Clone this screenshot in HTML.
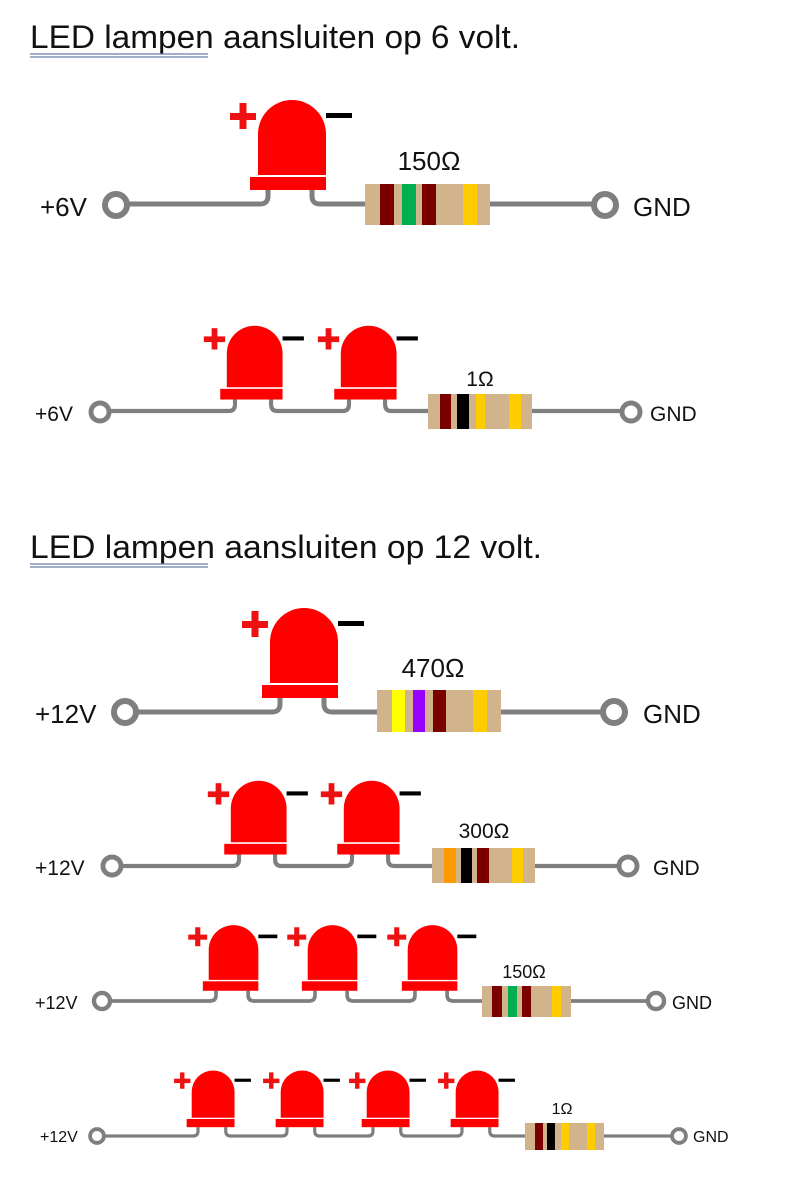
<!DOCTYPE html>
<html><head><meta charset="utf-8"><style>
html,body{margin:0;padding:0;background:#fff;}
svg{display:block;}
text{font-family:"Liberation Sans",sans-serif;fill:#111;}
.h{font-size:32px;}
</style></head><body>
<svg width="788" height="1178" viewBox="0 0 788 1178" xmlns="http://www.w3.org/2000/svg">
<defs>
<g id="led">
  <path d="M0 -14 V-8 Q0 0 -8 0 M44 -14 V-8 Q44 0 52 0" fill="none" stroke="#7f7f7f" stroke-width="5"/>
  <path d="M-10 -29 V-70 A34 34 0 0 1 58 -70 V-29 Z" fill="#ff0000"/>
  <rect x="-18" y="-27" width="76" height="13" fill="#ff0000"/>
  <rect x="-38" y="-91" width="26" height="7" fill="#ee1111"/>
  <rect x="-28.5" y="-101" width="7" height="26" fill="#ee1111"/>
  <rect x="58" y="-91" width="26" height="5" fill="#000"/>
</g>
<circle id="term" r="11" fill="#fff" stroke="#7f7f7f" stroke-width="6"/>
</defs>

<text class="h" x="30" y="48" textLength="490" lengthAdjust="spacingAndGlyphs">LED lampen aansluiten op 6 volt.</text>
<line x1="30" y1="54" x2="208" y2="54" stroke="#6a7fa8" stroke-width="1.2"/>
<line x1="30" y1="57" x2="208" y2="57" stroke="#6a7fa8" stroke-width="1.2"/>
<text class="h" x="30" y="558" textLength="512" lengthAdjust="spacingAndGlyphs">LED lampen aansluiten op 12 volt.</text>
<line x1="30" y1="564" x2="208" y2="564" stroke="#6a7fa8" stroke-width="1.2"/>
<line x1="30" y1="567" x2="208" y2="567" stroke="#6a7fa8" stroke-width="1.2"/>

<g stroke="#7f7f7f" stroke-width="5">
  <line x1="116" y1="204" x2="261" y2="204"/>
  <line x1="319" y1="204" x2="366" y2="204"/>
  <line x1="489" y1="204" x2="605" y2="204"/>
</g>
<use href="#led" transform="translate(268,204)"/>
<rect x="365" y="184" width="125" height="41" fill="#d2b48c"/>
<rect x="380" y="184" width="14" height="41" fill="#7a0000"/>
<rect x="402" y="184" width="14" height="41" fill="#00b050"/>
<rect x="422" y="184" width="14" height="41" fill="#7a0000"/>
<rect x="463" y="184" width="14" height="41" fill="#ffcc00"/>
<use href="#term" transform="translate(116,205)"/>
<use href="#term" transform="translate(605,205)"/>
<text x="40" y="216" font-size="26">+6V</text>
<text x="633" y="216" font-size="26">GND</text>
<text x="429" y="170" font-size="26" text-anchor="middle">150Ω</text>

<g stroke="#7f7f7f" stroke-width="4.2">
  <line x1="100" y1="411" x2="229" y2="411"/>
  <line x1="277" y1="411" x2="343" y2="411"/>
  <line x1="391" y1="411" x2="429" y2="411"/>
  <line x1="531" y1="411" x2="631" y2="411"/>
</g>
<use href="#led" transform="translate(235,411) scale(0.82)"/>
<use href="#led" transform="translate(349,411) scale(0.82)"/>
<rect x="428" y="394" width="104" height="35" fill="#d2b48c"/>
<rect x="440" y="394" width="11" height="35" fill="#7a0000"/>
<rect x="457" y="394" width="12" height="35" fill="#000"/>
<rect x="476" y="394" width="9" height="35" fill="#ffcc00"/>
<rect x="509" y="394" width="12" height="35" fill="#ffcc00"/>
<use href="#term" transform="translate(100,412) scale(0.82)"/>
<use href="#term" transform="translate(631,412) scale(0.82)"/>
<text x="35" y="421" font-size="21">+6V</text>
<text x="650" y="421" font-size="21">GND</text>
<text x="480" y="386" font-size="21" text-anchor="middle">1Ω</text>

<g stroke="#7f7f7f" stroke-width="5">
  <line x1="125" y1="712" x2="273" y2="712"/>
  <line x1="331" y1="712" x2="378" y2="712"/>
  <line x1="500" y1="712" x2="614" y2="712"/>
</g>
<use href="#led" transform="translate(280,712)"/>
<rect x="377" y="690" width="124" height="42" fill="#d2b48c"/>
<rect x="392" y="690" width="13" height="42" fill="#ffff00"/>
<rect x="413" y="690" width="12" height="42" fill="#9900ff"/>
<rect x="433" y="690" width="13" height="42" fill="#7a0000"/>
<rect x="473" y="690" width="14" height="42" fill="#ffcc00"/>
<use href="#term" transform="translate(125,712)"/>
<use href="#term" transform="translate(614,712)"/>
<text x="35" y="723" font-size="26">+12V</text>
<text x="643" y="723" font-size="26">GND</text>
<text x="433" y="677" font-size="26" text-anchor="middle">470Ω</text>

<g stroke="#7f7f7f" stroke-width="4.2">
  <line x1="112" y1="866" x2="233" y2="866"/>
  <line x1="281" y1="866" x2="346" y2="866"/>
  <line x1="394" y1="866" x2="433" y2="866"/>
  <line x1="534" y1="866" x2="628" y2="866"/>
</g>
<use href="#led" transform="translate(239,866) scale(0.82)"/>
<use href="#led" transform="translate(352,866) scale(0.82)"/>
<rect x="432" y="848" width="103" height="35" fill="#d2b48c"/>
<rect x="444" y="848" width="12" height="35" fill="#ff9900"/>
<rect x="461" y="848" width="11" height="35" fill="#000"/>
<rect x="477" y="848" width="12" height="35" fill="#7a0000"/>
<rect x="512" y="848" width="11" height="35" fill="#ffcc00"/>
<use href="#term" transform="translate(112,866) scale(0.82)"/>
<use href="#term" transform="translate(628,866) scale(0.82)"/>
<text x="35" y="875" font-size="21">+12V</text>
<text x="653" y="875" font-size="21">GND</text>
<text x="484" y="838" font-size="21" text-anchor="middle">300Ω</text>

<g stroke="#7f7f7f" stroke-width="3.7">
  <line x1="102" y1="1001" x2="211" y2="1001"/>
  <line x1="253" y1="1001" x2="310" y2="1001"/>
  <line x1="352" y1="1001" x2="410" y2="1001"/>
  <line x1="452" y1="1001" x2="483" y2="1001"/>
  <line x1="570" y1="1001" x2="656" y2="1001"/>
</g>
<use href="#led" transform="translate(216,1001) scale(0.73)"/>
<use href="#led" transform="translate(315,1001) scale(0.73)"/>
<use href="#led" transform="translate(415,1001) scale(0.73)"/>
<rect x="482" y="986" width="89" height="31" fill="#d2b48c"/>
<rect x="492" y="986" width="10" height="31" fill="#7a0000"/>
<rect x="508" y="986" width="9" height="31" fill="#00b050"/>
<rect x="522" y="986" width="9" height="31" fill="#7a0000"/>
<rect x="552" y="986" width="9" height="31" fill="#ffcc00"/>
<use href="#term" transform="translate(102,1001) scale(0.73)"/>
<use href="#term" transform="translate(656,1001) scale(0.73)"/>
<text x="35" y="1009" font-size="18">+12V</text>
<text x="672" y="1009" font-size="18">GND</text>
<text x="524" y="978" font-size="18" text-anchor="middle">150Ω</text>

<g stroke="#7f7f7f" stroke-width="3.2">
  <line x1="97" y1="1136" x2="194" y2="1136"/>
  <line x1="229" y1="1136" x2="283" y2="1136"/>
  <line x1="318" y1="1136" x2="369" y2="1136"/>
  <line x1="404" y1="1136" x2="458" y2="1136"/>
  <line x1="493" y1="1136" x2="526" y2="1136"/>
  <line x1="603" y1="1136" x2="679" y2="1136"/>
</g>
<use href="#led" transform="translate(198,1136) scale(0.63)"/>
<use href="#led" transform="translate(287,1136) scale(0.63)"/>
<use href="#led" transform="translate(373,1136) scale(0.63)"/>
<use href="#led" transform="translate(462,1136) scale(0.63)"/>
<rect x="525" y="1123" width="79" height="27" fill="#d2b48c"/>
<rect x="535" y="1123" width="8" height="27" fill="#7a0000"/>
<rect x="547" y="1123" width="8" height="27" fill="#000"/>
<rect x="561" y="1123" width="8" height="27" fill="#ffcc00"/>
<rect x="587" y="1123" width="8" height="27" fill="#ffcc00"/>
<use href="#term" transform="translate(97,1136) scale(0.63)"/>
<use href="#term" transform="translate(679,1136) scale(0.63)"/>
<text x="40" y="1142" font-size="16">+12V</text>
<text x="693" y="1142" font-size="16">GND</text>
<text x="562" y="1114" font-size="16" text-anchor="middle">1Ω</text>
</svg>
</body></html>
